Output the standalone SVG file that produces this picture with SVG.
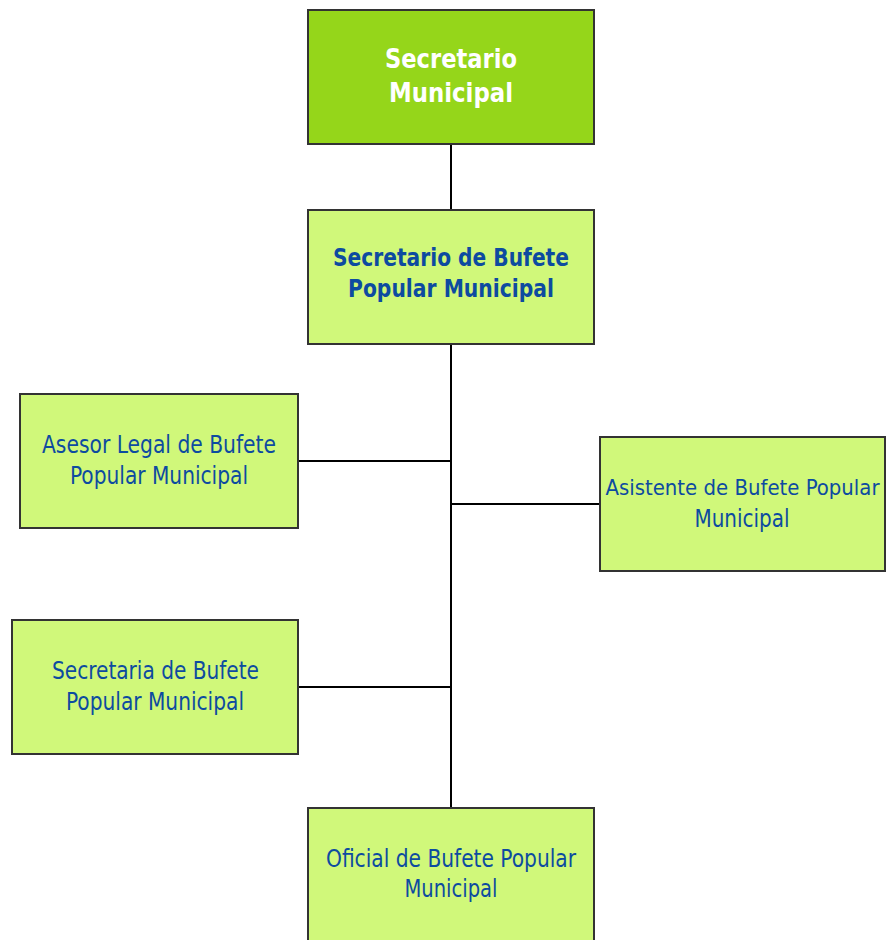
<svg xmlns="http://www.w3.org/2000/svg" width="886" height="940" viewBox="0 0 886 940">
<style>
.box{fill:#D0F87A;stroke:#333;stroke-width:2}
.top{fill:#95D61A;stroke:#333;stroke-width:2}
.t{font-family:"DejaVu Sans Condensed","DejaVu Sans",sans-serif;font-size:24px;fill:#0D4BA0;text-anchor:middle}
.b{font-weight:bold;font-size:25px}
.w{fill:#fff;font-size:27px}
.c{stroke:#000;stroke-width:2;fill:none}
</style>
<rect width="886" height="940" fill="#fff"/>
<g id="connectors">
<path class="c" d="M451 144V210M451 344V808M298 461H451M451 504H600M298 687H451"/>
</g>
<g id="n1"><rect class="top" x="308" y="10" width="286" height="134"/>
<text class="t b w" x="451" y="68" textLength="132" lengthAdjust="spacingAndGlyphs">Secretario</text><text class="t b w" x="451" y="102" textLength="124" lengthAdjust="spacingAndGlyphs">Municipal</text></g>
<g id="n2"><rect class="box" x="308" y="210" width="286" height="134"/>
<text class="t b" x="451" y="266" textLength="236" lengthAdjust="spacingAndGlyphs">Secretario de Bufete</text><text class="t b" x="451" y="297" textLength="206" lengthAdjust="spacingAndGlyphs">Popular Municipal</text></g>
<g id="n3"><rect class="box" x="20" y="394" width="278" height="134"/>
<text class="t" x="159" y="453" textLength="234" lengthAdjust="spacingAndGlyphs">Asesor Legal de Bufete</text><text class="t" x="159" y="484" textLength="178" lengthAdjust="spacingAndGlyphs">Popular Municipal</text></g>
<g id="n4"><rect class="box" x="600" y="437" width="285" height="134"/>
<text class="t" x="742.5" y="495" style="font-size:22px" textLength="274" lengthAdjust="spacingAndGlyphs">Asistente de Bufete Popular</text><text class="t" x="742" y="527" textLength="95" lengthAdjust="spacingAndGlyphs">Municipal</text></g>
<g id="n5"><rect class="box" x="12" y="620" width="286" height="134"/>
<text class="t" x="155.5" y="679" textLength="207" lengthAdjust="spacingAndGlyphs">Secretaria de Bufete</text><text class="t" x="155" y="710" textLength="178" lengthAdjust="spacingAndGlyphs">Popular Municipal</text></g>
<g id="n6"><rect class="box" x="308" y="808" width="286" height="140"/>
<text class="t" x="451" y="867" textLength="250" lengthAdjust="spacingAndGlyphs">Oficial de Bufete Popular</text><text class="t" x="451" y="897" textLength="93" lengthAdjust="spacingAndGlyphs">Municipal</text></g>
</svg>
